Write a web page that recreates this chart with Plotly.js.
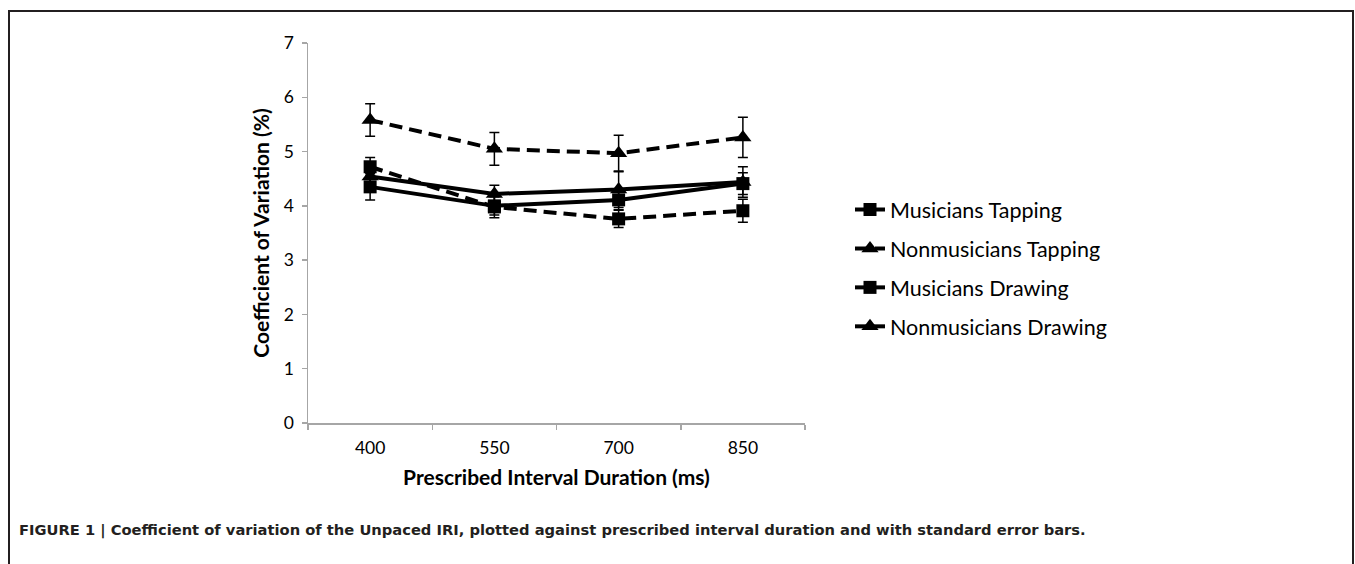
<!DOCTYPE html>
<html>
<head>
<meta charset="utf-8">
<script src="https://cdn.plot.ly/plotly-3.0.1.min.js"></script>
<style>html,body{margin:0;padding:0;background:#fff;}#chart{width:1355px;height:564px;}</style>
</head>
<body>
<div id="chart"></div>
<script>
const categories = ['400', '550', '700', '850'];
const seriesNames = ['Musicians Tapping', 'Nonmusicians Tapping', 'Musicians Drawing', 'Nonmusicians Drawing'];
const musiciansTapping = [4.72, 3.98, 3.76, 3.91];
const musiciansTappingSE = [0.17, 0.20, 0.16, 0.21];
const nonmusiciansTapping = [5.58, 5.05, 4.97, 5.26];
const nonmusiciansTappingSE = [0.30, 0.30, 0.33, 0.37];
const musiciansDrawing = [4.35, 4.00, 4.11, 4.41];
const musiciansDrawingSE = [0.24, 0.17, 0.18, 0.20];
const nonmusiciansDrawing = [4.54, 4.22, 4.30, 4.44];
const nonmusiciansDrawingSE = [0.20, 0.16, 0.33, 0.28];
const yTicks = [0, 1, 2, 3, 4, 5, 6, 7];

const values = [musiciansTapping, nonmusiciansTapping, musiciansDrawing, nonmusiciansDrawing];
const errs = [musiciansTappingSE, nonmusiciansTappingSE, musiciansDrawingSE, nonmusiciansDrawingSE];
const dashes = ['dash', 'dash', 'solid', 'solid'];
const symbols = ['square', 'triangle-up', 'square', 'triangle-up'];

const traces = values.map((v, i) => ({
  type: 'scatter',
  mode: 'lines+markers',
  name: seriesNames[i],
  legendgroup: 'g' + i,
  x: categories,
  y: v,
  line: {color: '#000', width: 4, dash: dashes[i] === 'dash' ? '13px,7px' : 'solid'},
  marker: {symbol: symbols[i], size: symbols[i] === 'square' ? 13 : 15, color: '#000'},
  error_y: {type: 'data', array: errs[i], visible: true, color: '#000', thickness: 1.5, width: 5}
}));

const px = (p) => (p - 308) / 497;
const py = (p) => (423 - p) / 380;

const layout = {
  width: 1355, height: 564,
  margin: {l: 308, r: 550, t: 43, b: 141},
  paper_bgcolor: '#fff', plot_bgcolor: '#fff',
  font: {family: 'Lato, "Open Sans", sans-serif', color: '#000'},
  showlegend: true,
  legend: {
    x: px(850), y: py(189), xanchor: 'left', yanchor: 'top',
    font: {size: 21.5, color: '#000'},
    tracegroupgap: 8,
    bgcolor: 'rgba(0,0,0,0)'
  },
  xaxis: {
    type: 'category',
    range: [-0.5, 3.5],
    showline: true, linecolor: '#a6a6a6', linewidth: 1.5,
    ticks: 'outside', ticklen: 5, tickcolor: '#a6a6a6', tickwidth: 1.5,
    tickson: 'boundaries',
    ticklabelstandoff: 8,
    showgrid: false, zeroline: false,
    tickfont: {size: 17.5, color: '#000'},
    title: {text: '<b>Prescribed Interval Duration (ms)</b>', font: {size: 21, color: '#000'}, standoff: 14}
  },
  yaxis: {
    range: [0, 7],
    tickvals: yTicks,
    showline: true, linecolor: '#a6a6a6', linewidth: 1.5,
    ticks: 'outside', ticklen: 5, tickcolor: '#a6a6a6', tickwidth: 1.5,
    ticklabelstandoff: 4,
    showgrid: false, zeroline: false,
    tickfont: {size: 17.5, color: '#000'},
    title: {text: '<b>Coefficient of Variation (%)</b>', font: {size: 21, color: '#000'}, standoff: 8}
  },
  shapes: [
    {type: 'line', xref: 'paper', yref: 'paper', x0: px(9), x1: px(9), y0: py(11), y1: py(570), line: {color: '#231f20', width: 2}},
    {type: 'line', xref: 'paper', yref: 'paper', x0: px(8), x1: px(1354), y0: py(11), y1: py(11), line: {color: '#231f20', width: 2}},
    {type: 'line', xref: 'paper', yref: 'paper', x0: px(1353), x1: px(1353), y0: py(11), y1: py(570), line: {color: '#231f20', width: 2}}
  ],
  annotations: [
    {xref: 'paper', yref: 'paper', x: px(17), y: py(530), xanchor: 'left', yanchor: 'middle', showarrow: false,
     text: '<b>FIGURE 1 | Coefficient of variation of the Unpaced IRI, plotted against prescribed interval duration and with standard error bars.</b>',
     font: {family: '"DejaVu Sans", sans-serif', size: 14.7, color: '#231f20'}}
  ]
};

Plotly.newPlot('chart', traces, layout, {displayModeBar: false, staticPlot: true});
</script>
</body>
</html>
